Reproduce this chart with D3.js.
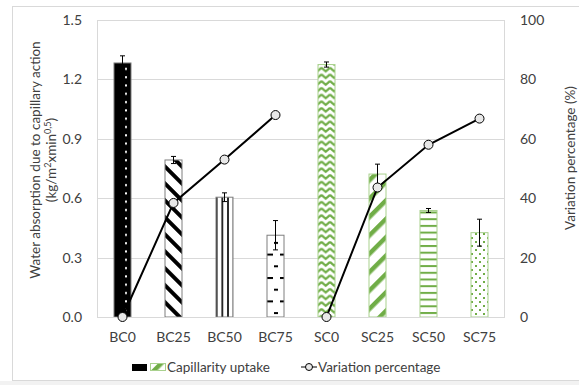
<!DOCTYPE html>
<html>
<head>
<meta charset="utf-8">
<script src="https://cdn.jsdelivr.net/npm/d3@7"></script>
<style>
  body { margin: 0; background: #fff; }
  text { font-family: Lato, "Open Sans", sans-serif; fill: #404040; }
</style>
</head>
<body>
<svg id="grafico" width="579" height="385"></svg>
<script>
// data
var categories = ["BC0", "BC25", "BC50", "BC75", "SC0", "SC25", "SC50", "SC75"];
var series = ["BC", "BC", "BC", "BC", "SC", "SC", "SC", "SC"];
var uptake = [1.283, 0.793, 0.605, 0.413, 1.275, 0.722, 0.538, 0.426];
var uptakeErr = [0.036, 0.018, 0.022, 0.074, 0.013, 0.05, 0.01, 0.068];
var variation = [0, 38.4, 53, 68, 0, 43.6, 58, 66.8];
var leftTicks = [0, 0.3, 0.6, 0.9, 1.2, 1.5];
var rightTicks = [0, 20, 40, 60, 80, 100];
var barPattern = ["pBC0", "pBC25", "pBC50", "pBC75", "pSC0", "pSC25", "pSC50", "pSC75"];

const green = "#70AD47";
const greenEdge = "#A9D18E";

var svg = d3.select("#grafico"),
    width = +svg.attr("width"),
    height = +svg.attr("height");

var margin = {top: 20, right: 74, bottom: 68, left: 97};
var plotW = width - margin.left - margin.right,
    plotH = height - margin.top - margin.bottom;

// chart frame
svg.append("rect").attr("x", 0).attr("y", 381).attr("width", width).attr("height", 4).attr("fill", "#f2f2f2");
svg.append("rect").attr("x", 12.5).attr("y", 6.5).attr("width", 600).attr("height", 374)
    .attr("fill", "none").attr("stroke", "#d9d9d9");

// patterns
var defs = svg.append("defs");
function pat(id, w, h) {
  var p = defs.append("pattern").attr("id", id).attr("patternUnits", "userSpaceOnUse")
      .attr("width", w).attr("height", h);
  return p;
}
var p;
p = pat("pBC0", 16, 8.3);
p.append("rect").attr("width", 16).attr("height", 8.3).attr("fill", "#000");
p.append("rect").attr("x", 11).attr("y", 3).attr("width", 2).attr("height", 2).attr("fill", "#fff");

p = pat("pBC25", 12, 12).attr("patternTransform", "rotate(45)");
p.append("rect").attr("width", 12).attr("height", 12).attr("fill", "#fff");
p.append("rect").attr("x", 0).attr("y", 0).attr("width", 12).attr("height", 4).attr("fill", "#000");

var vw = 17 / 3;
p = pat("pBC50", vw, 10);
p.append("rect").attr("width", vw).attr("height", 10).attr("fill", "#fff");
p.append("rect").attr("x", 0).attr("width", 0.8).attr("height", 10).attr("fill", "#000");
p.append("rect").attr("x", vw - 0.8).attr("width", 0.8).attr("height", 10).attr("fill", "#000");

p = pat("pBC75", 17, 23.4).attr("x", 0).attr("y", 3);
p.append("rect").attr("width", 17).attr("height", 23.4).attr("fill", "#fff");
p.append("rect").attr("x", 1).attr("y", 0).attr("width", 10).attr("height", 2).attr("fill", "#000");
p.append("rect").attr("x", 12).attr("y", 11.7).attr("width", 4).attr("height", 2).attr("fill", "#000");

p = pat("pSC0", 17 / 2, 6.7);
p.append("rect").attr("width", 17 / 2).attr("height", 6.7).attr("fill", "#fff");
p.append("path").attr("d", "M0,0.8 L4.25,4.6 L8.5,0.8 M0,7.5 L4.25,11.3 L8.5,7.5 M0,-5.9 L4.25,-2.1 L8.5,-5.9")
    .attr("fill", "none").attr("stroke", green).attr("stroke-width", 2.2);

p = pat("pSC25", 13, 13).attr("patternTransform", "rotate(-45)");
p.append("rect").attr("width", 13).attr("height", 13).attr("fill", "#fff");
p.append("rect").attr("x", 0).attr("y", 0).attr("width", 13).attr("height", 4.5).attr("fill", green);

p = pat("pSC50", 10, 6.7).attr("y", 4);
p.append("rect").attr("width", 10).attr("height", 6.7).attr("fill", "#fff");
p.append("rect").attr("x", 0).attr("y", 0).attr("width", 10).attr("height", 2).attr("fill", green);

p = pat("pSC75", 8, 8);
p.append("rect").attr("width", 8).attr("height", 8).attr("fill", "#fff");
p.append("rect").attr("x", 1).attr("y", 1).attr("width", 2).attr("height", 2).attr("fill", green);
p.append("rect").attr("x", 5).attr("y", 5).attr("width", 2).attr("height", 2).attr("fill", green);

var g = svg.append("g").attr("transform", "translate(" + margin.left + "," + margin.top + ")");

var x = d3.scaleBand().domain(categories).range([0, plotW]).paddingInner(2 / 3).paddingOuter(1 / 3);
var y = d3.scaleLinear().domain([0, 1.5]).range([plotH, 0]);
var y2 = d3.scaleLinear().domain([0, 100]).range([plotH, 0]);

// grid
g.selectAll(".grid").data(leftTicks).enter().append("line")
    .attr("x1", 0).attr("x2", plotW)
    .attr("y1", function(d) { return Math.round(y(d)) + 0.5; })
    .attr("y2", function(d) { return Math.round(y(d)) + 0.5; })
    .attr("stroke", "#d9d9d9");
g.append("line").attr("x1", 0.5).attr("x2", 0.5).attr("y1", 0).attr("y2", plotH).attr("stroke", "#d9d9d9");
g.append("line").attr("x1", plotW - 0.5).attr("x2", plotW - 0.5).attr("y1", 0).attr("y2", plotH).attr("stroke", "#d9d9d9");

// axes
var axL = g.append("g").call(d3.axisLeft(y).tickValues(leftTicks).tickFormat(d3.format(".1f")).tickSize(0).tickPadding(15));
var axR = g.append("g").attr("transform", "translate(" + plotW + ",0)")
    .call(d3.axisRight(y2).tickValues(rightTicks).tickSize(0).tickPadding(15));
var axB = g.append("g").attr("transform", "translate(0," + plotH + ")")
    .call(d3.axisBottom(x).tickSize(0).tickPadding(15));
[axL, axR, axB].forEach(function(a) {
  a.select(".domain").remove();
  a.selectAll("text").style("font-size", "14px").attr("fill", "#404040").style("font-family", "Lato");
});

// bars
var bars = g.selectAll(".bar").data(categories).enter().append("rect")
    .attr("x", function(d) { return x(d); })
    .attr("y", function(d, i) { return y(uptake[i]); })
    .attr("width", x.bandwidth())
    .attr("height", function(d, i) { return plotH - y(uptake[i]); })
    .attr("fill", function(d, i) { return "url(#" + barPattern[i] + ")"; })
    .attr("stroke", function(d, i) { return series[i] == "BC" ? "#7f7f7f" : greenEdge; })
    .attr("stroke-width", 1);
// the patterns are in page coords, so shift them with the plot
defs.selectAll("pattern").attr("patternTransform", function() {
  var t = d3.select(this).attr("patternTransform") || "";
  return "translate(" + margin.left + "," + margin.top + ") " + t;
});

// bottom axis line
g.append("line").attr("x1", 0).attr("x2", plotW).attr("y1", plotH + 0.5).attr("y2", plotH + 0.5).attr("stroke", "#d9d9d9");

// error bars
var eb = g.selectAll(".err").data(categories).enter().append("g")
    .attr("transform", function(d) { return "translate(" + (x(d) + x.bandwidth() / 2) + ",0)"; });
eb.append("line").attr("y1", function(d, i) { return y(uptake[i] - uptakeErr[i]); })
    .attr("y2", function(d, i) { return y(uptake[i] + uptakeErr[i]); }).attr("stroke", "#000");
eb.append("line").attr("x1", -2.5).attr("x2", 2.5)
    .attr("y1", function(d, i) { return y(uptake[i] + uptakeErr[i]); })
    .attr("y2", function(d, i) { return y(uptake[i] + uptakeErr[i]); }).attr("stroke", "#000");
eb.append("line").attr("x1", -2.5).attr("x2", 2.5)
    .attr("y1", function(d, i) { return y(uptake[i] - uptakeErr[i]); })
    .attr("y2", function(d, i) { return y(uptake[i] - uptakeErr[i]); }).attr("stroke", "#000");

// variation line, one piece per series
var pts = categories.map(function(c, i) { return {c: c, s: series[i], v: variation[i]}; });
var line = d3.line()
    .x(function(d) { return x(d.c) + x.bandwidth() / 2; })
    .y(function(d) { return y2(d.v); });
d3.groups(pts, function(d) { return d.s; }).forEach(function(grp) {
  g.append("path").datum(grp[1]).attr("d", line)
      .attr("fill", "none").attr("stroke", "#000").attr("stroke-width", 2);
});
g.selectAll(".dot").data(pts).enter().append("circle")
    .attr("cx", function(d) { return x(d.c) + x.bandwidth() / 2; })
    .attr("cy", function(d) { return y2(d.v); })
    .attr("r", 4.5)
    .attr("fill", "#e8e8e8").attr("stroke", "#000").attr("stroke-width", 1);

// axis titles
var tl = svg.append("text").attr("transform", "translate(35,160) rotate(-90)")
    .attr("text-anchor", "middle").style("font-size", "13.5px");
tl.append("tspan").attr("x", 0).attr("dy", "0.35em").text("Water absorption due to capillary action");
var t2 = svg.append("text").attr("transform", "translate(51,160) rotate(-90)")
    .attr("text-anchor", "middle").style("font-size", "13.5px").attr("dy", "0.35em");
t2.append("tspan").text("(kg/m");
t2.append("tspan").attr("dy", "-5").style("font-size", "9px").text("2");
t2.append("tspan").attr("dy", "5").text("xmin");
t2.append("tspan").attr("dy", "-5").style("font-size", "9px").text("0,5");
t2.append("tspan").attr("dy", "5").text(")");

svg.append("text").attr("transform", "translate(570,158) rotate(-90)")
    .attr("text-anchor", "middle").attr("dy", "0.35em").style("font-size", "13.5px")
    .text("Variation percentage (%)");

// legend
var lg = svg.append("g");
lg.append("rect").attr("x", 132).attr("y", 364).attr("width", 15).attr("height", 7).attr("fill", "#000");
lg.append("rect").attr("x", 150.5).attr("y", 363.5).attr("width", 15).attr("height", 7)
    .attr("fill", "url(#pSC25)").attr("stroke", greenEdge);
lg.append("text").attr("x", 167).attr("y", 367).attr("dy", "0.35em").style("font-size", "13.5px").text("Capillarity uptake");
lg.append("line").attr("x1", 301).attr("x2", 317).attr("y1", 367).attr("y2", 367).attr("stroke", "#000").attr("stroke-width", 1);
lg.append("circle").attr("cx", 309).attr("cy", 367).attr("r", 3.5).attr("fill", "#e8e8e8").attr("stroke", "#000");
lg.append("text").attr("x", 318).attr("y", 367).attr("dy", "0.35em").style("font-size", "13.5px").text("Variation percentage");
</script>
</body>
</html>
